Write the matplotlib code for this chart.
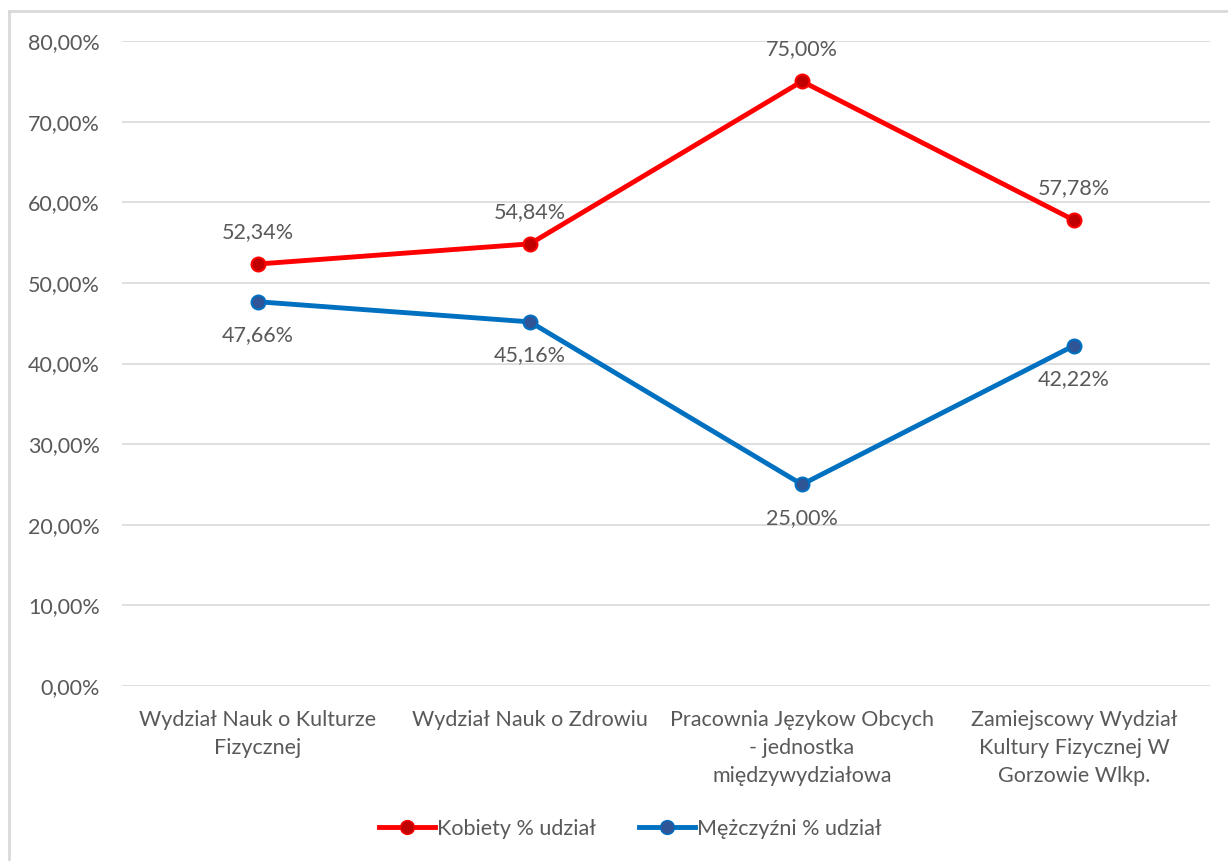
import matplotlib
matplotlib.use("Agg")
import matplotlib.pyplot as plt
from matplotlib.lines import Line2D

categories = [
    "Wydział Nauk o Kulturze\nFizycznej",
    "Wydział Nauk o Zdrowiu",
    "Pracownia Językow Obcych\n- jednostka\nmiędzywydziałowa",
    "Zamiejscowy Wydział\nKultury Fizycznej W\nGorzowie Wlkp.",
]
kobiety = [52.34, 54.84, 75.00, 57.78]
mezczyzni = [47.66, 45.16, 25.00, 42.22]
yticks = [0, 10, 20, 30, 40, 50, 60, 70, 80]

plt.rcParams['font.family'] = ['Lato', 'DejaVu Sans']
txt = '#595959'
grid = '#D9D9D9'
fs = 15.5

fig = plt.figure(figsize=(12.28, 8.61), dpi=100)
ax = fig.add_axes([122/1228, 1 - 686/861, (1210-122)/1228, (686-41)/861])

x = list(range(len(categories)))
red_line = '#FF0000'
red_fill = '#C00000'
blue_line = '#0070C0'
blue_fill = '#2F5597'

ax.plot(x, kobiety, color=red_line, lw=3.5, marker='o', ms=10,
        markerfacecolor=red_fill, markeredgecolor=red_line, markeredgewidth=1.5,
        label='Kobiety % udział', zorder=3, solid_capstyle='round')
ax.plot(x, mezczyzni, color=blue_line, lw=3.5, marker='o', ms=10,
        markerfacecolor=blue_fill, markeredgecolor=blue_line, markeredgewidth=1.5,
        label='Mężczyźni % udział', zorder=3, solid_capstyle='round')

def fmt(v):
    return f"{v:.2f}".replace('.', ',') + '%'

for xi, v in zip(x, kobiety):
    ax.annotate(fmt(v), (xi, v), xytext=(0, 23), textcoords='offset points',
                ha='center', va='center', fontsize=fs, color=txt)
for xi, v in zip(x, mezczyzni):
    ax.annotate(fmt(v), (xi, v), xytext=(0, -24), textcoords='offset points',
                ha='center', va='center', fontsize=fs, color=txt)

ax.set_xlim(-0.5, len(categories) - 0.5)
ax.set_ylim(0, 80)
ax.set_yticks(yticks)
ax.set_yticklabels([f"{t},00%" for t in yticks])
ax.set_xticks(x)
ax.set_xticklabels(categories, linespacing=1.5)
ax.tick_params(axis='both', length=0, labelsize=fs, labelcolor=txt)
ax.tick_params(axis='y', pad=16)
ax.tick_params(axis='x', pad=17)
ax.yaxis.grid(True, color=grid, lw=1.2)
ax.set_axisbelow(True)
for s in ax.spines.values():
    s.set_visible(False)

handles = [
    Line2D([0], [0], color=red_line, lw=3.5, marker='o', ms=10,
           markerfacecolor=red_fill, markeredgecolor=red_line),
    Line2D([0], [0], color=blue_line, lw=3.5, marker='o', ms=10,
           markerfacecolor=blue_fill, markeredgecolor=blue_line),
]
fig.legend(handles, ['Kobiety % udział', 'Mężczyźni % udział'],
           loc='center', bbox_to_anchor=(630/1228, 1 - 829/861), ncol=2,
           frameon=False, fontsize=fs, labelcolor=txt, handlelength=2.6,
           handletextpad=0.1, columnspacing=2.0)

# chart border (left and top visible)
fig.add_artist(Line2D([9/1228, 9/1228], [0, 1 - 11/861], transform=fig.transFigure,
                      color='#D9D9D9', lw=2))
fig.add_artist(Line2D([9/1228, 1], [1 - 11/861, 1 - 11/861], transform=fig.transFigure,
                      color='#D9D9D9', lw=2))

fig.savefig('out.png', dpi=100)
